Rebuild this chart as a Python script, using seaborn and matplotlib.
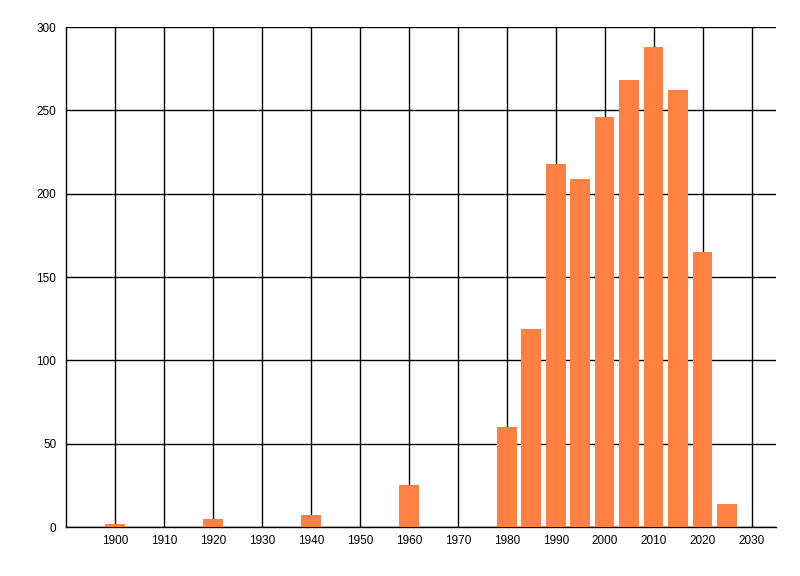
import matplotlib
matplotlib.use("Agg")
import matplotlib.pyplot as plt
import seaborn as sns

# Counts per 5-year bin
years = [1900, 1920, 1940, 1960, 1980, 1985, 1990, 1995, 2000, 2005, 2010, 2015, 2020, 2025]
counts = [2, 5, 7, 25, 60, 119, 218, 209, 246, 268, 288, 262, 165, 14]

x_ticks = list(range(1900, 2031, 10))
y_ticks = [0, 50, 100, 150, 200, 250, 300]

sns.set_style("white")
plt.rcParams["font.family"] = ["Liberation Sans", "DejaVu Sans"]

fig = plt.figure(figsize=(8, 5.76), dpi=100)
ax = fig.add_axes([0.0825, 0.085, 0.887, 0.868])

sns.barplot(x=years, y=counts, native_scale=True, width=0.8,
            color="#FF8040", saturation=1, linewidth=0, edgecolor="none",
            ax=ax, zorder=3)

ax.set_xlim(1890, 2034.9)
ax.set_ylim(0, 300)
ax.set_xticks(x_ticks)
ax.set_yticks(y_ticks)
ax.set_xticklabels([str(t) for t in x_ticks])

ax.grid(True, color="black", linewidth=1)
ax.set_axisbelow(True)

for side in ["top", "right"]:
    ax.spines[side].set_visible(False)
for side in ["left", "bottom"]:
    ax.spines[side].set_color("black")
    ax.spines[side].set_linewidth(1)

ax.tick_params(axis="y", length=5, width=1, color="black", labelcolor="black",
               labelsize=8.5, pad=2)
ax.tick_params(axis="x", length=0, labelcolor="black", labelsize=8.5, pad=6)
ax.set_xlabel("")
ax.set_ylabel("")

fig.savefig("out.png", dpi=100)
